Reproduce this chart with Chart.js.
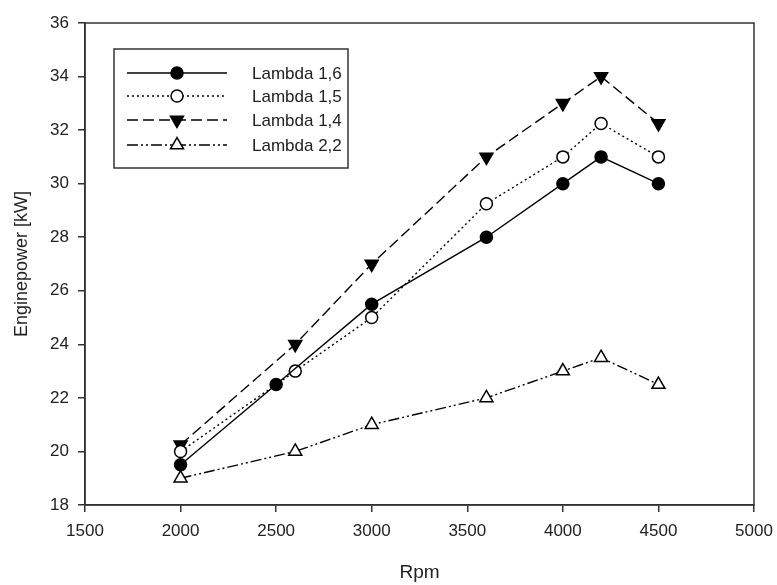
<!DOCTYPE html>
<html>
<head>
<meta charset="utf-8">
<script src="https://cdn.jsdelivr.net/npm/chart.js@4.4.1/dist/chart.umd.min.js"></script>
<style>
  html, body { margin: 0; padding: 0; background: #fff; }
  #wrap { width: 777px; height: 585px; }
</style>
</head>
<body>
<div id="wrap"><canvas id="myChart" width="777" height="585"></canvas></div>
<script>
// Datos
var rpm16 = [2000, 2500, 3000, 3600, 4000, 4200, 4500];
var rpmOtros = [2000, 2600, 3000, 3600, 4000, 4200, 4500];

var lambda16 = [19.5, 22.5, 25.5, 28, 30, 31, 30];
var lambda15 = [20, 23, 25, 29.25, 31, 32.25, 31];
var lambda14 = [20.25, 24, 27, 31, 33, 34, 32.25];
var lambda22 = [19, 20, 21, 22, 23, 23.5, 22.5];

var etiquetas = ['Lambda 1,6', 'Lambda 1,5', 'Lambda 1,4', 'Lambda 2,2'];

var xTicks = [1500, 2000, 2500, 3000, 3500, 4000, 4500, 5000];
var yTicks = [18, 20, 22, 24, 26, 28, 30, 32, 34, 36];

var fuente = "'Liberation Sans', Arial, sans-serif";

function puntos(xs, ys) {
    return xs.map(function (x, i) { return { x: x, y: ys[i] }; });
}

// Marco del area y leyenda con muestra de linea + marcador
var marcoLeyenda = {
    id: 'marcoLeyenda',
    afterDraw: function (chart) {
        var ctx = chart.ctx;
        var a = chart.chartArea;
        ctx.save();
        ctx.strokeStyle = '#333';
        ctx.lineWidth = 1.5;
        ctx.strokeRect(a.left, a.top, a.right - a.left, a.bottom - a.top);

        // caja de la leyenda
        ctx.strokeRect(114, 49, 234, 119);

        var filas = [73, 96, 120, 145];
        chart.data.datasets.forEach(function (ds, i) {
            var y = filas[i];
            ctx.strokeStyle = '#000';
            ctx.lineWidth = 1.4;
            ctx.setLineDash(ds.borderDash || []);
            ctx.beginPath();
            ctx.moveTo(127, y);
            ctx.lineTo(227, y);
            ctx.stroke();
            ctx.setLineDash([]);
            dibujarMarcador(ctx, ds, 177, y);

            ctx.fillStyle = '#222';
            ctx.font = '17px ' + fuente;
            ctx.textBaseline = 'middle';
            ctx.textAlign = 'left';
            ctx.fillText(ds.label, 252, y + 1);
        });
        ctx.restore();
    }
};

function dibujarMarcador(ctx, ds, x, y) {
    var r = ds.pointRadius;
    ctx.fillStyle = ds.pointBackgroundColor;
    ctx.strokeStyle = '#000';
    ctx.lineWidth = 1.5;
    ctx.beginPath();
    if (ds.pointStyle === 'circle') {
        ctx.arc(x, y, r, 0, Math.PI * 2);
    } else {
        // mismo triangulo que dibuja Chart.js (lado = r * raiz(3))
        var s = ds.rotation === 180 ? -1 : 1;
        var lado = r * Math.sqrt(3) / 2;
        ctx.moveTo(x, y - s * r);
        ctx.lineTo(x - lado, y + s * r / 2);
        ctx.lineTo(x + lado, y + s * r / 2);
        ctx.closePath();
    }
    ctx.fill();
    ctx.stroke();
}

function serie(label, datos, dash, estilo, relleno, rot, radio) {
    return {
        label: label,
        data: datos,
        borderColor: '#000',
        borderWidth: 1.4,
        borderDash: dash,
        pointStyle: estilo,
        pointRadius: radio,
        pointBorderWidth: 1.5,
        pointBorderColor: '#000',
        pointBackgroundColor: relleno,
        rotation: rot,
        tension: 0,
        fill: false,
        clip: false
    };
}

function sinComas(v) { return String(v); }

document.addEventListener("DOMContentLoaded", function () {
    var ctx = document.getElementById('myChart').getContext('2d');

    new Chart(ctx, {
        type: 'line',
        data: {
            datasets: [
                serie(etiquetas[0], puntos(rpm16, lambda16), [], 'circle', '#000', 0, 6),
                serie(etiquetas[1], puntos(rpmOtros, lambda15), [2, 3], 'circle', '#fff', 0, 6),
                serie(etiquetas[2], puntos(rpmOtros, lambda14), [11, 5], 'triangle', '#000', 180, 7.5),
                serie(etiquetas[3], puntos(rpmOtros, lambda22), [11, 3, 2, 3, 2, 3], 'triangle', '#fff', 0, 7.5)
            ]
        },
        options: {
            responsive: false,
            animation: false,
            layout: { padding: { top: 23, right: 23, left: 0, bottom: 0 } },
            plugins: {
                legend: { display: false },
                tooltip: { enabled: false }
            },
            scales: {
                x: {
                    type: 'linear',
                    min: xTicks[0],
                    max: xTicks[xTicks.length - 1],
                    afterBuildTicks: function (s) { s.ticks = xTicks.map(function (v) { return { value: v }; }); },
                    afterFit: function (s) { s.height = 80; s.paddingLeft = 0; s.paddingRight = 0; },
                    grid: { display: true, drawOnChartArea: false, drawTicks: true, tickLength: 7, color: '#333', lineWidth: 1.5 },
                    border: { display: true, color: '#333', width: 1.5 },
                    ticks: { color: '#222', padding: 9, font: { family: fuente, size: 17 }, maxRotation: 0, callback: sinComas },
                    title: { display: true, text: 'Rpm', color: '#222', font: { family: fuente, size: 19 }, padding: { top: 0, bottom: 1 } }
                },
                y: {
                    min: yTicks[0],
                    max: yTicks[yTicks.length - 1],
                    afterBuildTicks: function (s) { s.ticks = yTicks.map(function (v) { return { value: v }; }); },
                    afterFit: function (s) { s.width = 85; s.paddingTop = 0; s.paddingBottom = 0; },
                    grid: { display: true, drawOnChartArea: false, drawTicks: true, tickLength: 7, color: '#333', lineWidth: 1.5 },
                    border: { display: true, color: '#333', width: 1.5 },
                    ticks: { color: '#222', padding: 9, font: { family: fuente, size: 17 }, callback: sinComas },
                    title: { display: true, text: 'Enginepower [kW]', color: '#222', font: { family: fuente, size: 18 }, padding: { top: 11, bottom: 0 } }
                }
            }
        },
        plugins: [marcoLeyenda]
    });
});
</script>
</body>
</html>
